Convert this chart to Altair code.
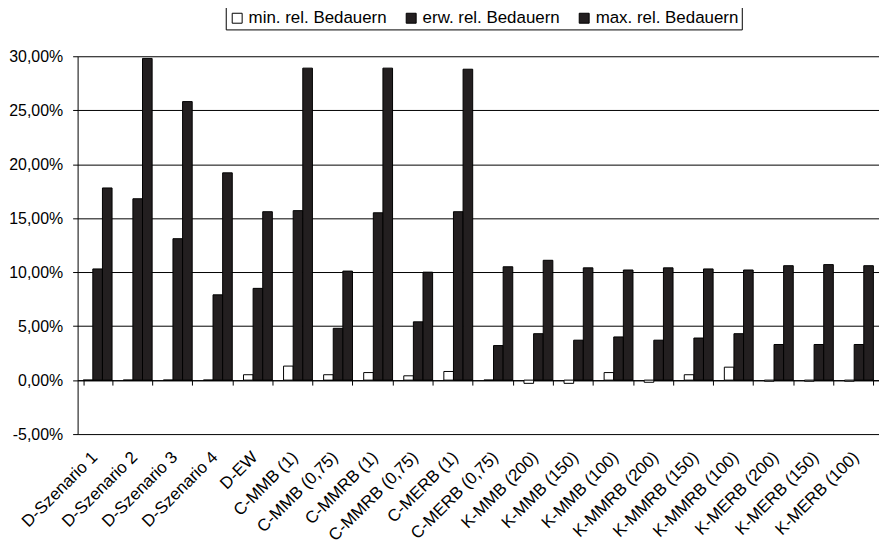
import altair as alt
import pandas as pd

cats = ["D-Szenario 1", "D-Szenario 2", "D-Szenario 3", "D-Szenario 4", "D-EW",
        "C-MMB (1)", "C-MMB (0,75)", "C-MMRB (1)", "C-MMRB (0,75)", "C-MERB (1)",
        "C-MERB (0,75)", "K-MMB (200)", "K-MMB (150)", "K-MMB (100)", "K-MMRB (200)",
        "K-MMRB (150)", "K-MMRB (100)", "K-MERB (200)", "K-MERB (150)", "K-MERB (100)"]
min_vals = [0.0, 0.0, 0.0, 0.0, 0.5, 1.3, 0.5, 0.7, 0.4, 0.8,
            0.0, -0.3, -0.3, 0.7, -0.2, 0.5, 1.2, -0.1, -0.1, -0.1]
erw_vals = [10.3, 16.8, 13.1, 7.9, 8.5, 15.7, 4.8, 15.5, 5.4, 15.6,
            3.2, 4.3, 3.7, 4.0, 3.7, 3.9, 4.3, 3.3, 3.3, 3.3]
max_vals = [17.8, 29.8, 25.8, 19.2, 15.6, 28.9, 10.1, 28.9, 10.0, 28.8,
            10.5, 11.1, 10.4, 10.2, 10.4, 10.3, 10.2, 10.6, 10.7, 10.6]
series = ["min. rel. Bedauern", "erw. rel. Bedauern", "max. rel. Bedauern"]
colors = ["white", "#231f20", "#231f20"]

rows = []
for i, c in enumerate(cats):
    for s, vals in zip(series, [min_vals, erw_vals, max_vals]):
        rows.append({"cat": c, "series": s, "value": vals[i]})
df = pd.DataFrame(rows)

FONT = "Liberation Sans"

chart = alt.Chart(df).mark_bar(stroke="black", strokeWidth=1).encode(
    x=alt.X("cat:N", sort=cats,
            scale=alt.Scale(paddingInner=0.28, paddingOuter=0.14),
            axis=alt.Axis(title=None, labelAngle=-45, labelFontSize=17, labelFont=FONT,
                          labelColor="black", domainColor="black", tickColor="black",
                          tickSize=5, tickBand="extent", offset=-54.3, labelPadding=64,
                          labelOffset=-9,
                          grid=False, labelOverlap=False, labelLimit=300)),
    xOffset=alt.XOffset("series:N", sort=series,
                        scale=alt.Scale(paddingInner=0, paddingOuter=0)),
    y=alt.Y("value:Q", scale=alt.Scale(domain=[-5, 30], nice=False),
            axis=alt.Axis(title=None, values=list(range(-5, 31, 5)),
                          labelExpr="replace(replace(format(datum.value, '.2f'), '.', ','), '−', '-') + '%'",
                          labelFontSize=16, labelFont=FONT, labelColor="black",
                          domainColor="black", tickColor="black", tickSize=5,
                          gridColor="black", gridWidth=1, labelPadding=10)),
    color=alt.Color("series:N", sort=series,
                    scale=alt.Scale(domain=series, range=colors),
                    legend=alt.Legend(orient="none", legendX=149, legendY=-50,
                                      direction="horizontal", title=None,
                                      strokeColor="black", padding=3,
                                      symbolType="square", symbolSize=100,
                                      symbolStrokeColor="black", symbolStrokeWidth=1,
                                      labelFontSize=17, labelFont=FONT, labelColor="black",
                                      columnPadding=16, labelOffset=3)),
).properties(
    width=806, height=380,
    autosize=alt.AutoSizeParams(type="none"),
    padding={"left": 70, "top": 47, "right": 0, "bottom": 110},
).configure_view(stroke=None)

chart.save("out.html", embed_options={"renderer": "svg", "actions": False})
